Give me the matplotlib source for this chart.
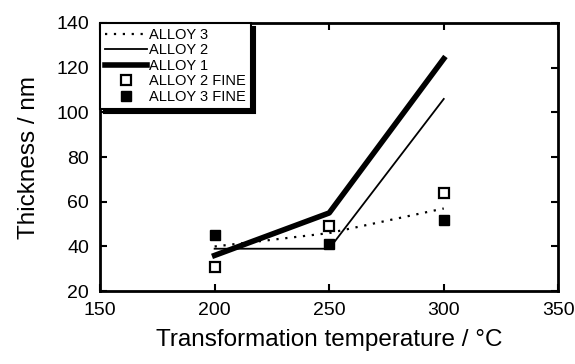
import matplotlib
matplotlib.use('Agg')
import matplotlib.pyplot as plt

plt.rcParams['font.family'] = ['Liberation Sans', 'DejaVu Sans']

# transformation temperatures, deg C
temps = [200, 250, 300]

# line series, thickness in nm
alloy3 = [40, 46, 57]
alloy2 = [39, 39, 106]
alloy1 = [36, 55, 124]

# fine plate points
alloy2_fine = [31, 49, 64]
alloy3_fine = [45, 41, 52]

xticks = [150, 200, 250, 300, 350]
yticks = [20, 40, 60, 80, 100, 120, 140]

fig = plt.figure(figsize=(5.75, 3.64), dpi=100)
ax = fig.add_axes([0.174, 0.2, 0.797, 0.737])

ax.plot(temps, alloy3, color='black', lw=1.6, linestyle=(0, (1, 3)), label='ALLOY 3')
ax.plot(temps, alloy2, color='black', lw=1.3, label='ALLOY 2')
ax.plot(temps, alloy1, color='black', lw=4, label='ALLOY 1')
ax.plot(temps, alloy2_fine, linestyle='none', marker='s', ms=7, mfc='white',
        mec='black', mew=1.6, label='ALLOY 2 FINE')
ax.plot(temps, alloy3_fine, linestyle='none', marker='s', ms=7, mfc='black',
        mec='black', label='ALLOY 3 FINE')

ax.set_xlim(150, 350)
ax.set_ylim(20, 140)
ax.set_xticks(xticks)
ax.set_yticks(yticks)

for sp in ax.spines.values():
    sp.set_linewidth(2)
ax.tick_params(direction='in', length=5, width=1.5, top=True, right=True,
               labelsize=14, pad=8)

ax.set_xlabel('Transformation temperature / °C', fontsize=17.5, labelpad=7)
ax.set_ylabel('Thickness / nm', fontsize=17.5, labelpad=12)

leg = ax.legend(loc='upper left', bbox_to_anchor=(0, 1), borderaxespad=0,
                fontsize=10.5, frameon=True, fancybox=False, handlelength=2.9,
                handletextpad=0.1, labelspacing=0.1, borderpad=0.35,
                shadow={'color': 'black', 'alpha': 1, 'ox': 3, 'oy': -3})
leg.get_frame().set_edgecolor('black')
leg.get_frame().set_linewidth(1.5)
leg.get_frame().set_alpha(1)

fig.savefig('out.png', dpi=100)
